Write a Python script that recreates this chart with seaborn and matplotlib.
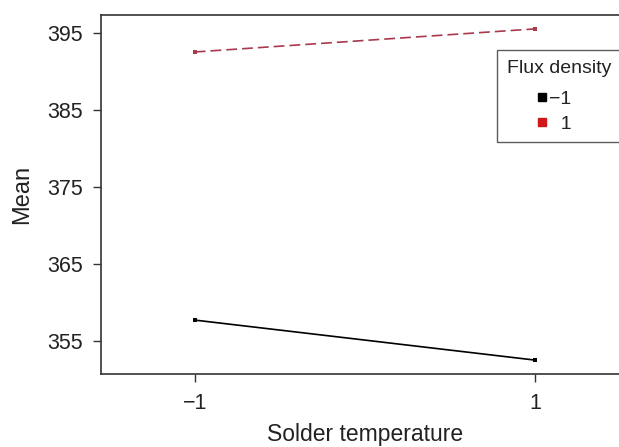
import matplotlib
matplotlib.use("Agg")
import matplotlib.pyplot as plt
from matplotlib.lines import Line2D
import pandas as pd
import seaborn as sns

solder_temp = [-1, 1]
flux_levels = ["-1", "1"]
mean_low_flux = [357.7, 352.5]
mean_high_flux = [392.5, 395.5]
y_ticks = [355, 365, 375, 385, 395]
x_ticks = [-1, 1]
x_tick_labels = ["\u22121", "1"]
legend_labels = ["\u22121", "  1"]

df = pd.DataFrame({
    "Solder temperature": solder_temp * 2,
    "Mean": mean_low_flux + mean_high_flux,
    "Flux density": [flux_levels[0]] * 2 + [flux_levels[1]] * 2,
})

sns.set_style("white")
plt.rcParams["font.family"] = ["Liberation Sans", "DejaVu Sans"]

fig = plt.figure(figsize=(6.19, 4.47), dpi=100)
# the plot frame runs slightly past the right edge of the figure
ax_left, ax_right, ax_top, ax_bottom = 101, 629, 15, 374
ax = fig.add_axes([ax_left / 619, 1 - ax_bottom / 447,
                   (ax_right - ax_left) / 619, (ax_bottom - ax_top) / 447])

palette = {"-1": "black", "1": "#a83a4c"}
sns.lineplot(data=df, x="Solder temperature", y="Mean", hue="Flux density",
             style="Flux density", dashes={"-1": "", "1": (6.5, 3)},
             palette=palette, markers={"-1": "s", "1": "s"}, markersize=3.5,
             markeredgewidth=0, linewidth=1.2, legend=False, ax=ax)

ax.set_xlim(-1.55, 1.55)
ax.set_ylim(350.7, 397.3)
ax.set_xticks(x_ticks)
ax.set_xticklabels(x_tick_labels)
ax.set_yticks(y_ticks)
ax.tick_params(axis="both", direction="out", length=6, width=1, labelsize=15.5,
               color="#333333", labelcolor="#222222",
               bottom=True, left=True)
ax.tick_params(axis="y", pad=7)
ax.tick_params(axis="x", pad=8)
ax.set_xlabel("Solder temperature", fontsize=16.5, labelpad=6, color="#222222")
ax.set_ylabel("Mean", fontsize=17, labelpad=10, color="#222222")
for s in ax.spines.values():
    s.set_color("#333333")
    s.set_linewidth(1.2)

handles = [Line2D([], [], marker="s", linestyle="none", color="black", markersize=5.5),
           Line2D([], [], marker="s", linestyle="none", color="#d01818", markersize=5.5)]
ax_w, ax_h = ax_right - ax_left, ax_bottom - ax_top
leg = ax.legend(handles, legend_labels, title="Flux density", loc="upper left",
                bbox_to_anchor=((497 - ax_left) / ax_w, 1 - (50 - ax_top) / ax_h),
                fontsize=14, title_fontsize=14, frameon=True, fancybox=False,
                handlelength=3.6, handletextpad=-1.4, borderpad=0.5,
                labelspacing=0.35, borderaxespad=0, alignment="left")
leg._legend_box.sep = 10
leg.get_frame().set_edgecolor("#333333")
leg.get_frame().set_linewidth(1.0)
for t in leg.get_texts():
    t.set_color("#222222")
leg.get_title().set_color("#222222")

fig.savefig("out.png", dpi=100)
